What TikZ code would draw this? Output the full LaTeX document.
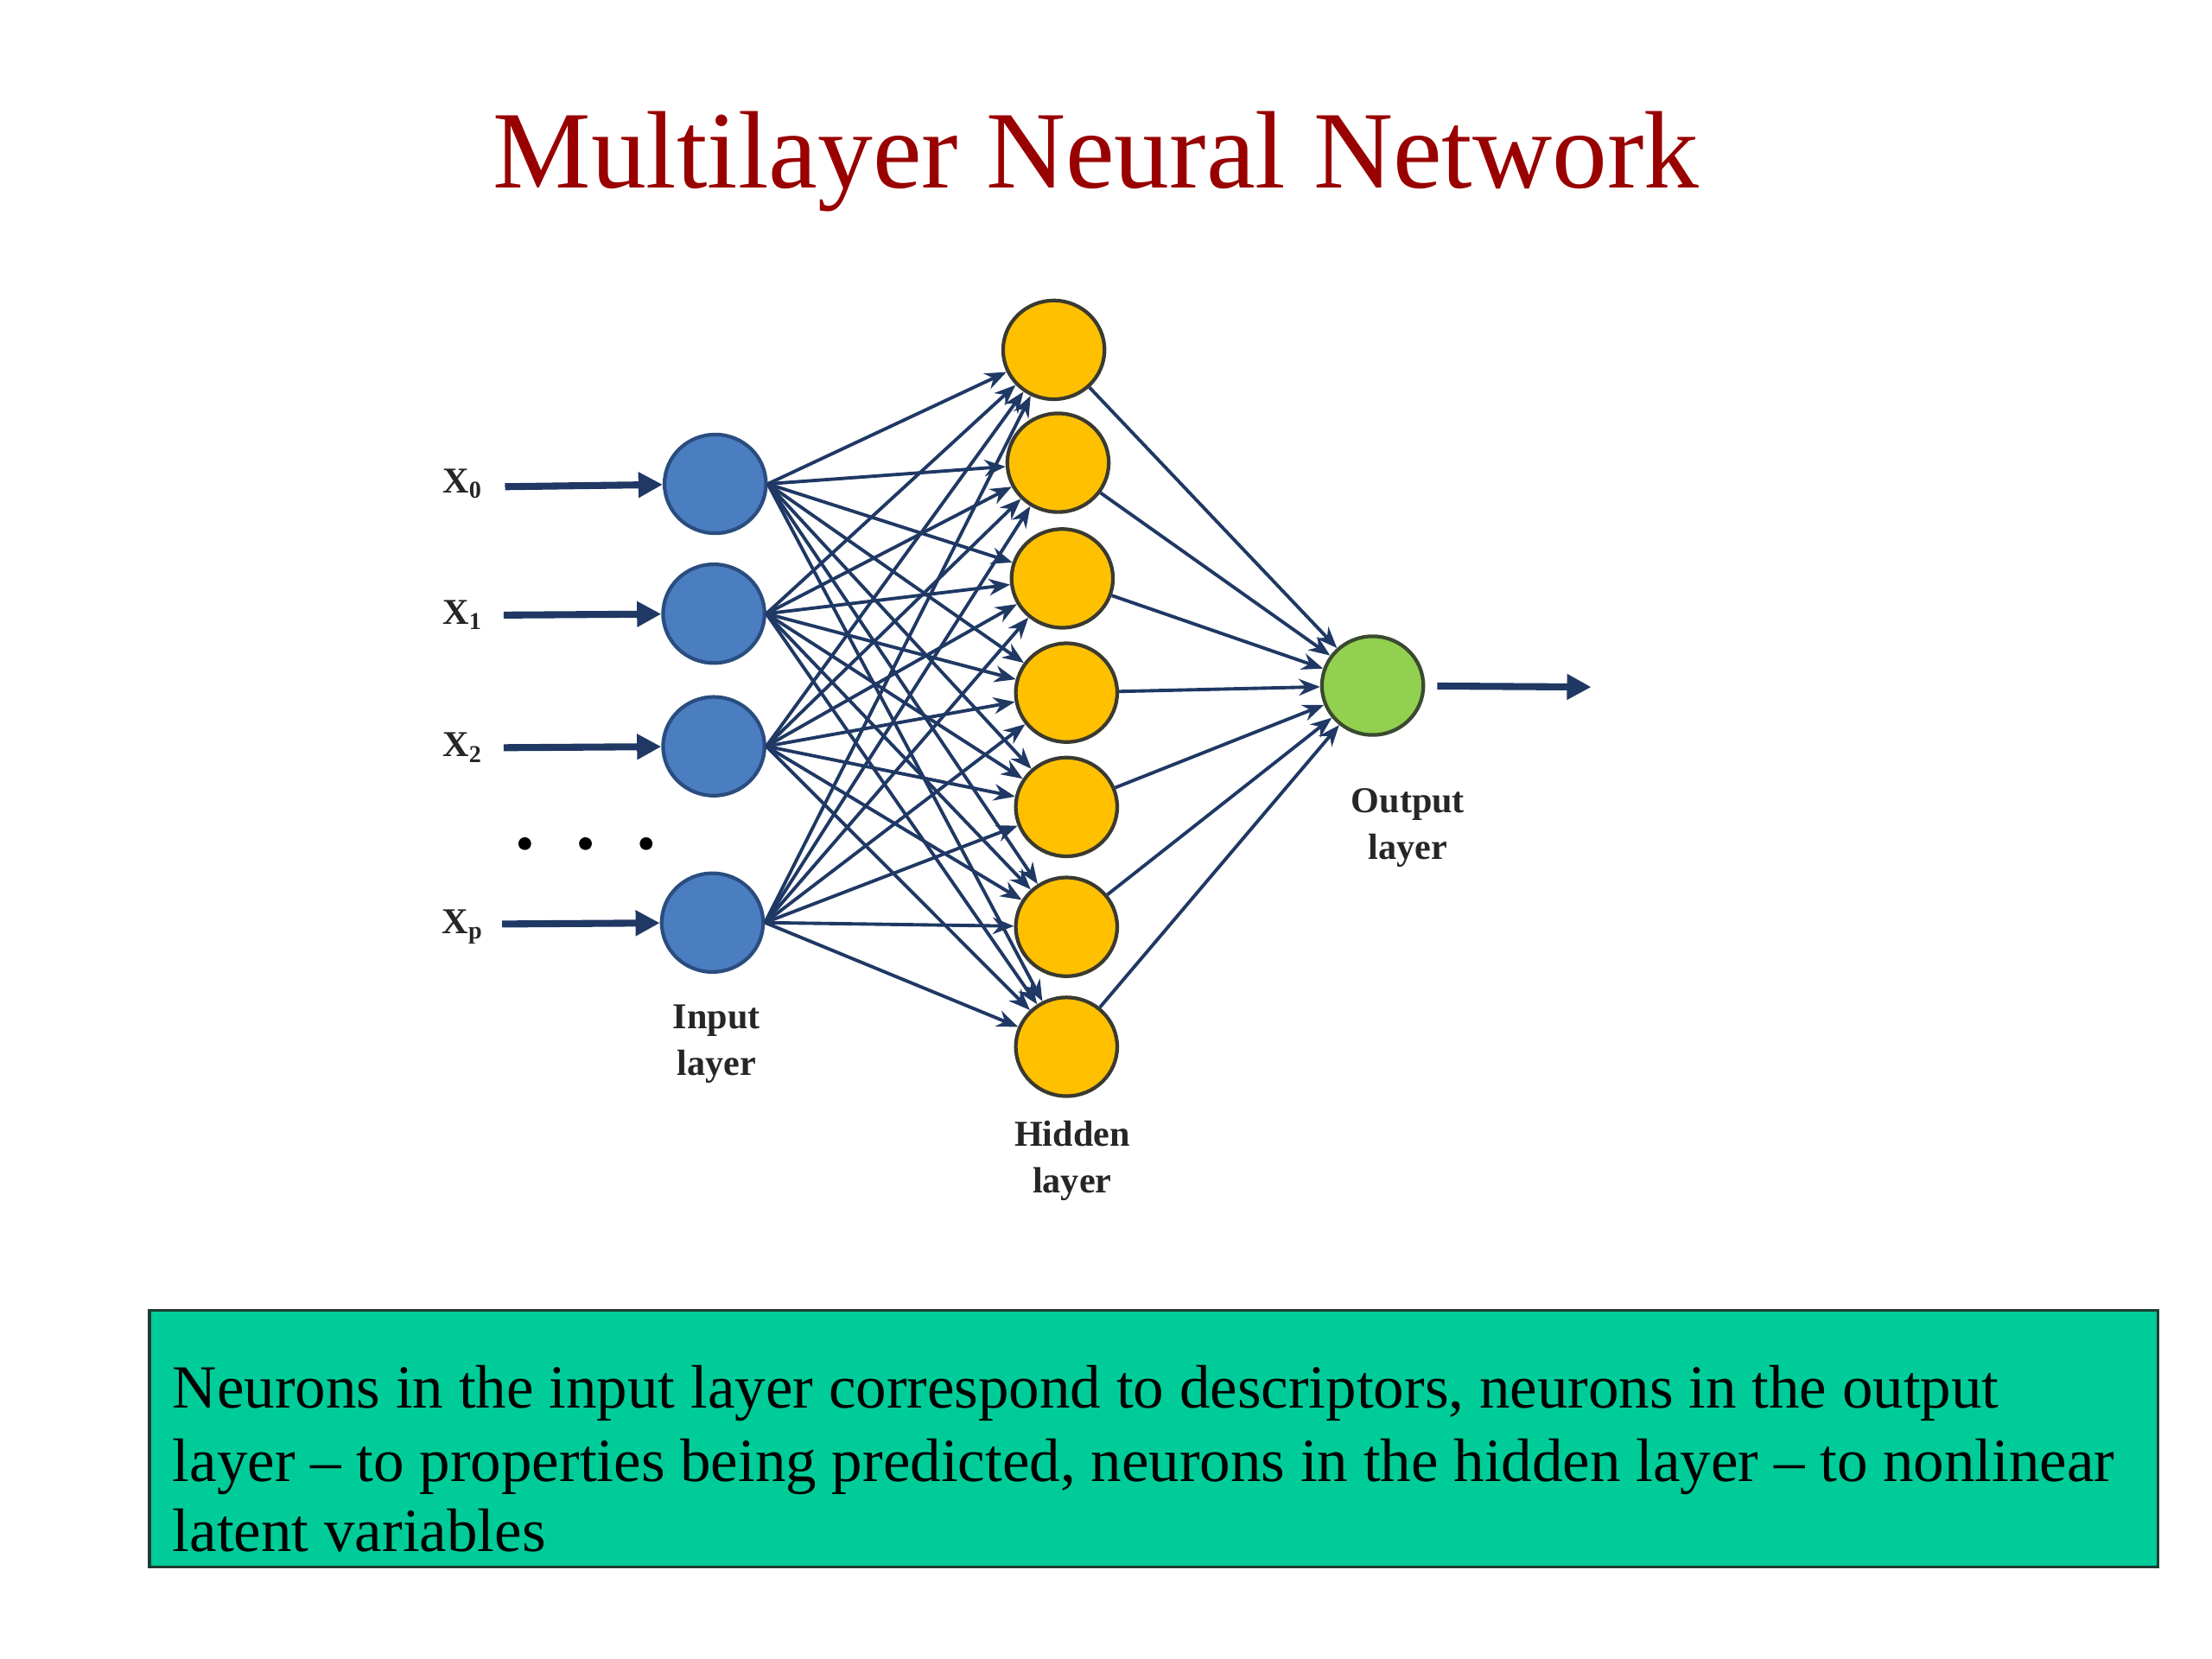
\documentclass[tikz,border=0pt]{standalone}
\usepackage{fontspec}
\setmainfont{Liberation Serif}
\usetikzlibrary{shapes.geometric,arrows.meta}
\definecolor{navy}{HTML}{1F3864}
\definecolor{titlered}{HTML}{990000}
\definecolor{inblue}{HTML}{4A7EC1}
\definecolor{inborder}{HTML}{2A4D80}
\definecolor{hidorange}{HTML}{FFC000}
\definecolor{hidborder}{HTML}{3A3A30}
\definecolor{outgreen}{HTML}{92D050}
\definecolor{outborder}{HTML}{3A4A30}
\definecolor{boxgreen}{HTML}{00CC99}
\definecolor{boxborder}{HTML}{1E3D33}
\begin{document}
\begin{tikzpicture}[x=0.016327cm,y=-0.016327cm,
  neuron/.style={ellipse, line width=1.2pt, minimum width=33.4pt, minimum height=32.5pt, inner sep=0pt},
  inp/.style={neuron, fill=inblue, draw=inborder},
  hid/.style={neuron, fill=hidorange, draw=hidborder},
  outn/.style={neuron, fill=outgreen, draw=outborder},
  conn/.style={draw=navy, line width=1.1pt, -{Stealth[length=7pt,width=5.5pt]}},
  feed/.style={draw=navy, line width=2.3pt, -{Triangle[length=8pt,width=8pt]}},
  lbl/.style={font=\fontsize{12}{15.3}\selectfont\bfseries, align=center, text=black!85, inner sep=0pt},
  xlbl/.style={font=\fontsize{12}{14}\selectfont\bfseries, text=black!85, inner sep=0pt},
  dotst/.style={circle, fill=black, inner sep=0pt, minimum size=4.2pt},
  bodytext/.style={font=\fontsize{20.2}{23.7}\selectfont, anchor=base west, inner sep=0pt}
]
\useasboundingbox (0,0) rectangle (1568,1176);
\fill[white] (0,0) rectangle (1568,1176);

% title
\node[font=\fontsize{36.3}{43}\selectfont, text=titlered, anchor=base, inner sep=0pt] (title) at (777,133) {Multilayer Neural Network};

% input nodes
\node[inp] (i0) at (507,343) {};
\node[inp] (i1) at (506,435) {};
\node[inp] (i2) at (506,529) {};
\node[inp] (i3) at (505,654) {};

% hidden nodes
\node[hid] (h1) at (747,248) {};
\node[hid] (h2) at (750,328) {};
\node[hid] (h3) at (753,410) {};
\node[hid] (h4) at (756,491) {};
\node[hid] (h5) at (756,572) {};
\node[hid] (h6) at (756,657) {};
\node[hid] (h7) at (756,742) {};

% output node
\node[outn] (o) at (973,486) {};

% connections
\foreach \i in {0,...,3}{
  \foreach \j in {1,...,7}{
    \draw[conn] (i\i.east) -- (h\j);
  }
}
\foreach \j in {1,...,7}{
  \draw[conn] (h\j) -- (o);
}

% input arrows
\coordinate (s0) at (358,345);
\coordinate (s1) at (357,436);
\coordinate (s2) at (357,530);
\coordinate (s3) at (356,655);
\draw[feed] (s0) -- (i0);
\draw[feed] (s1) -- (i1);
\draw[feed] (s2) -- (i2);
\draw[feed] (s3) -- (i3);

% output arrow
\coordinate (oend) at (1128,487);
\draw[feed, shorten <=4pt] (o) -- (oend);

% input labels
\node[xlbl] (x0) at (328,343) {X\textsubscript{0}};
\node[xlbl] (x1) at (328,436) {X\textsubscript{1}};
\node[xlbl] (x2) at (328,530) {X\textsubscript{2}};
\node[xlbl] (xp) at (328,657) {X\textsubscript{p}};

% dots
\node[dotst] (d1) at (372,598) {};
\node[dotst] (d2) at (415,598) {};
\node[dotst] (d3) at (458,598) {};

% layer labels
\node[lbl] (linput) at (508,740) {Input\\layer};
\node[lbl] (lhidden) at (760,823) {Hidden\\layer};
\node[lbl] (loutput) at (998,587) {Output\\layer};

% note box
\node[draw=boxborder, fill=boxgreen, line width=0.9pt, minimum width=661.5pt, minimum height=84.5pt, anchor=north west, inner sep=0pt] (box) at (105,928) {};
\node[bodytext] (t1) at (122,998) {Neurons in the input layer correspond to descriptors, neurons in the output};
\node[bodytext] (t2) at (122,1050) {layer – to properties being predicted, neurons in the hidden layer – to nonlinear};
\node[bodytext] (t3) at (122,1100) {latent variables};
\end{tikzpicture}
\end{document}
